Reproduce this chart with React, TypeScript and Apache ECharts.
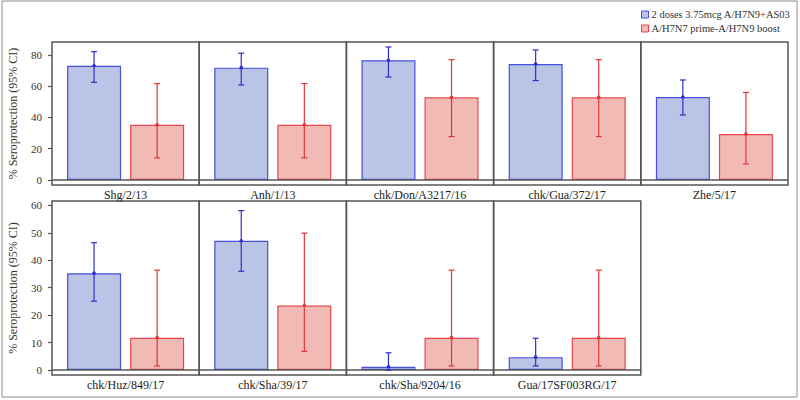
import React, { useEffect, useRef } from "react";
import * as echarts from "echarts";

const strains = [
  "Shg/2/13",
  "Anh/1/13",
  "chk/Don/A3217/16",
  "chk/Gua/372/17",
  "Zhe/5/17",
  "chk/Huz/849/17",
  "chk/Sha/39/17",
  "chk/Sha/9204/16",
  "Gua/17SF003RG/17",
];
const seriesNames = ["2 doses 3.75mcg A/H7N9+AS03", "A/H7N7 prime-A/H7N9 boost"];
const adjuvantedValues = [73.1, 71.9, 76.6, 74.2, 53.1, 35.3, 47.1, 1.2, 4.7];
const adjuvantedLower = [62.5, 60.8, 65.9, 63.6, 41.6, 25.1, 36.0, 0, 1.5];
const adjuvantedUpper = [82.1, 81.1, 85.1, 83.2, 64.0, 46.4, 58.1, 6.3, 11.6];
const primeBoostValues = [35.3, 35.3, 52.9, 52.9, 29.4, 11.8, 23.5, 11.8, 11.8];
const primeBoostLower = [14.2, 14.2, 27.8, 27.8, 10.3, 1.5, 6.8, 1.5, 1.5];
const primeBoostUpper = [61.7, 61.7, 77.0, 77.0, 56.0, 36.4, 49.9, 36.4, 36.4];
const topRowTicks = [0, 20, 40, 60, 80];
const bottomRowTicks = [0, 10, 20, 30, 40, 50, 60];
const yAxisTitle = "% Seroprotection (95% CI)";

const FONT = "Liberation Serif";
const BLUE_FILL = "#bac4e6";
const BLUE_EDGE = "#4650dc";
const BLUE_ERR = "#2c30c8";
const RED_FILL = "#f1bab5";
const RED_EDGE = "#e8474c";
const RED_ERR = "#e23636";
const FRAME = "#555555";

export default function App() {
  const ref = useRef<HTMLDivElement>(null);

  useEffect(() => {
    if (!ref.current) return;
    const chart = echarts.init(ref.current, null, { renderer: "svg" });

    const grids: any[] = [];
    const xAxes: any[] = [];
    const yAxes: any[] = [];
    const series: any[] = [];

    const panelW = 147.2;
    const rows = [
      { top: 42, height: 143, min: -3.2, max: 88.3, ticks: topRowTicks },
      { top: 201, height: 174, min: -1.8, max: 61.6, ticks: bottomRowTicks },
    ];

    const errRender = (offsetFrac: number, color: string) => (params: any, api: any) => {
      const v = api.value(1);
      const lo = api.value(2);
      const hi = api.value(3);
      const band = api.size([1, 0])[0];
      const base = api.coord([api.value(0), v]);
      const x = base[0] + offsetFrac * band;
      const yv = base[1];
      const yl = api.coord([api.value(0), lo])[1];
      const yh = api.coord([api.value(0), hi])[1];
      const cap = 3;
      const st = { stroke: color, lineWidth: 1.2 };
      return {
        type: "group",
        children: [
          { type: "line", shape: { x1: x, y1: yl, x2: x, y2: yh }, style: st },
          { type: "line", shape: { x1: x - cap, y1: yl, x2: x + cap, y2: yl }, style: st },
          { type: "line", shape: { x1: x - cap, y1: yh, x2: x + cap, y2: yh }, style: st },
          { type: "circle", shape: { cx: x, cy: yv, r: 1.8 }, style: { fill: color } },
        ],
      };
    };

    strains.forEach((name, i) => {
      const rowIdx = i < 5 ? 0 : 1;
      const col = i < 5 ? i : i - 5;
      const row = rows[rowIdx];
      grids.push({
        left: 52 + col * panelW,
        top: row.top,
        width: panelW,
        height: row.height,
        show: true,
        borderColor: FRAME,
        borderWidth: 1.5,
        backgroundColor: "transparent",
      });
      xAxes.push({
        type: "category",
        gridIndex: i,
        data: [name],
        axisLine: { show: false },
        axisTick: { show: false },
        axisLabel: { fontFamily: FONT, fontSize: 12, color: "#222", margin: 4 },
      });
      const first = col === 0;
      yAxes.push({
        type: "value",
        gridIndex: i,
        min: row.min,
        max: row.max,
        splitLine: { show: false },
        axisLine: { show: false },
        axisTick: {
          show: first,
          length: 4,
          lineStyle: { color: FRAME, width: 1.2 },
          customValues: row.ticks,
        },
        axisLabel: {
          show: first,
          fontFamily: FONT,
          fontSize: 11,
          color: "#333",
          margin: 10,
          customValues: row.ticks,
        },
        name: first ? yAxisTitle : "",
        nameLocation: "middle",
        nameGap: 33,
        nameTextStyle: { fontFamily: FONT, fontSize: 12, color: "#333" },
      });

      series.push({
        name: seriesNames[0],
        type: "bar",
        xAxisIndex: i,
        yAxisIndex: i,
        data: [adjuvantedValues[i]],
        barWidth: "36.7%",
        barGap: "16.7%",
        itemStyle: { color: BLUE_FILL, borderColor: BLUE_EDGE, borderWidth: 1.2 },
        markLine: {
          silent: true,
          symbol: "none",
          label: { show: false },
          lineStyle: { color: FRAME, width: 1.5, type: "solid" },
          data: [{ yAxis: 0 }],
        },
        z: 2,
      });
      series.push({
        name: seriesNames[1],
        type: "bar",
        xAxisIndex: i,
        yAxisIndex: i,
        data: [primeBoostValues[i]],
        barWidth: "36.7%",
        barGap: "16.7%",
        itemStyle: { color: RED_FILL, borderColor: RED_EDGE, borderWidth: 1.2 },
        z: 2,
      });
      series.push({
        type: "custom",
        xAxisIndex: i,
        yAxisIndex: i,
        renderItem: errRender(-31.5 / 147, BLUE_ERR),
        data: [[0, adjuvantedValues[i], adjuvantedLower[i], adjuvantedUpper[i]]],
        z: 5,
        silent: true,
      });
      series.push({
        type: "custom",
        xAxisIndex: i,
        yAxisIndex: i,
        renderItem: errRender(31.5 / 147, RED_ERR),
        data: [[0, primeBoostValues[i], primeBoostLower[i], primeBoostUpper[i]]],
        z: 5,
        silent: true,
      });
    });

    chart.setOption({
      animation: false,
      backgroundColor: "#ffffff",
      textStyle: { fontFamily: FONT },
      legend: {
        data: seriesNames.map((n, k) => ({
          name: n,
          itemStyle: {
            color: k === 0 ? BLUE_FILL : RED_FILL,
            borderColor: k === 0 ? BLUE_EDGE : RED_EDGE,
            borderWidth: 1,
          },
        })),
        orient: "vertical",
        left: 641,
        top: 9,
        icon: "rect",
        itemWidth: 7,
        itemHeight: 7,
        itemGap: 3,
        padding: 0,
        textStyle: { fontFamily: FONT, fontSize: 10.5, color: "#333", padding: [0, 0, 0, -2] },
        selectedMode: false,
      },
      graphic: [
        {
          type: "rect",
          shape: { x: 2, y: 1, width: 795, height: 396 },
          style: { fill: "none", stroke: "#8a8a8a", lineWidth: 1 },
          silent: true,
        },
      ],
      grid: grids,
      xAxis: xAxes,
      yAxis: yAxes,
      series,
    });

    return () => chart.dispose();
  }, []);

  return <div ref={ref} style={{ width: 800, height: 400, position: "absolute", left: 0, top: 0 }} />;
}
